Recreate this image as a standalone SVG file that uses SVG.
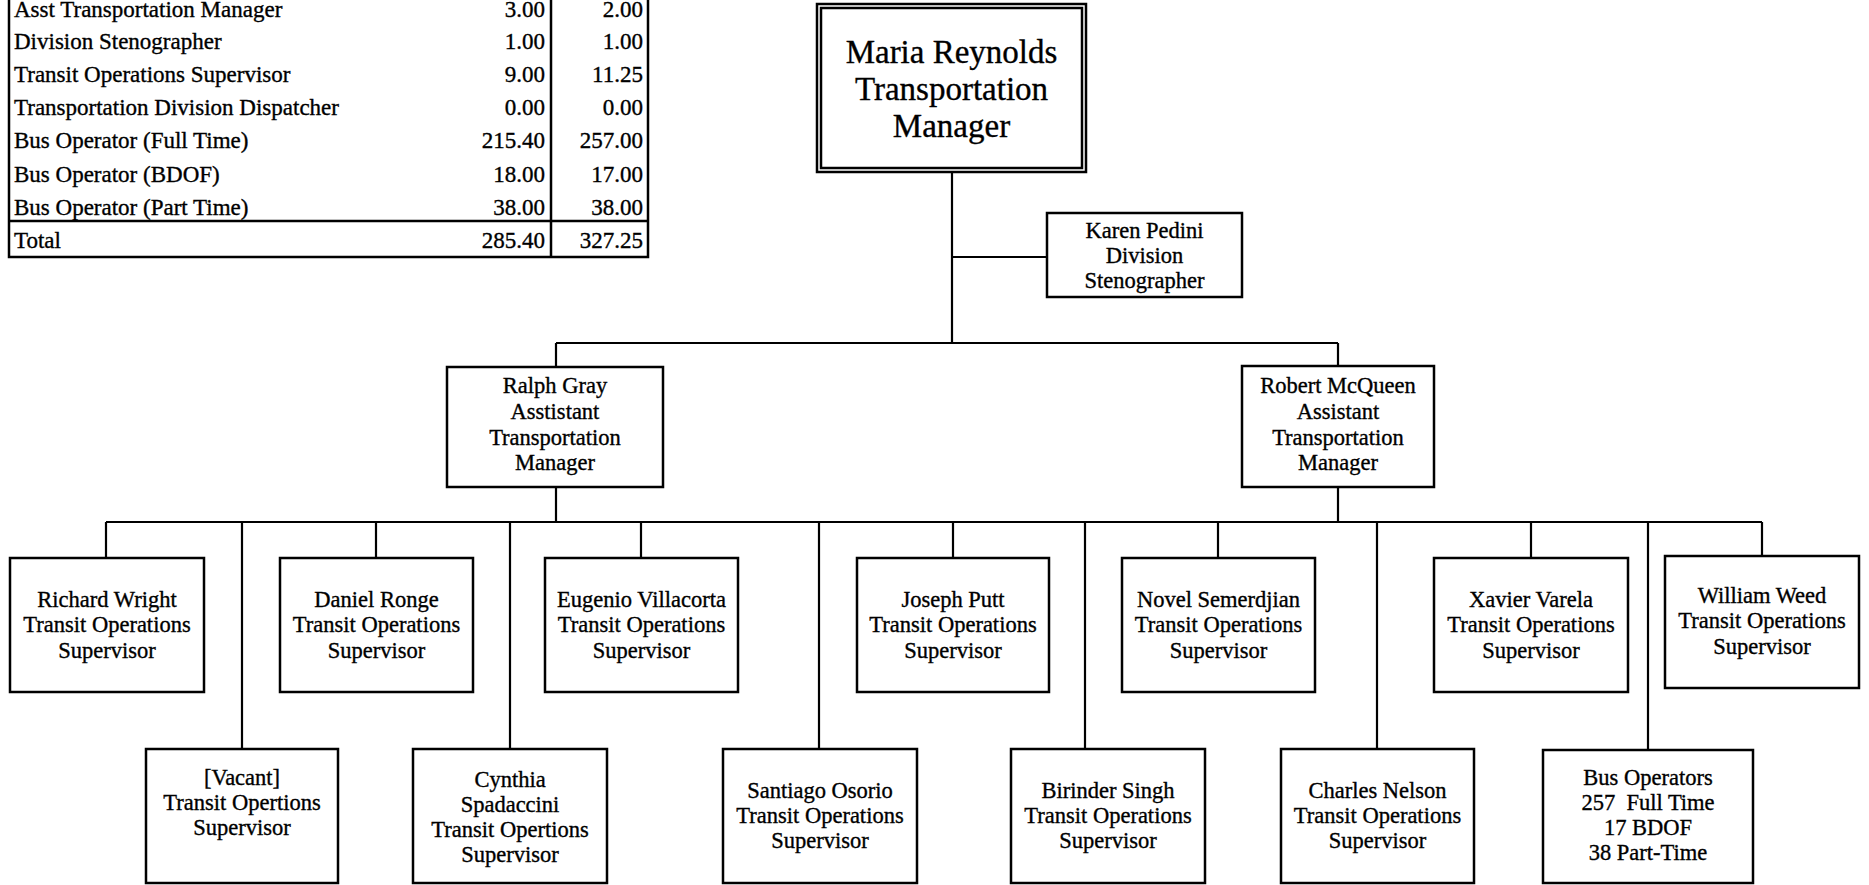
<svg xmlns="http://www.w3.org/2000/svg" width="1869" height="885" viewBox="0 0 1869 885">
<style>
text{font-family:"Liberation Serif","Times New Roman",serif;fill:#000;stroke:#000;stroke-width:0.35}
.t{font-size:23px}
.num{text-anchor:end}
.n{font-size:22.5px;text-anchor:middle}
.m{font-size:33px;text-anchor:middle}
.box{fill:#fff;stroke:#000;stroke-width:2.5}
.ln{stroke:#000;stroke-width:2.2;fill:none}
.tb{stroke:#000;stroke-width:2.5;fill:none}
</style>
<rect width="1869" height="885" fill="#fff"/>
<g id="table">
<path class="tb" d="M9,-2V257H648V-2M551,-2V257M9,221H648"/>
<text class="t" x="14" y="17">Asst Transportation Manager</text>
<text class="t" x="14" y="49">Division Stenographer</text>
<text class="t" x="14" y="82">Transit Operations Supervisor</text>
<text class="t" x="14" y="115">Transportation Division Dispatcher</text>
<text class="t" x="14" y="148">Bus Operator (Full Time)</text>
<text class="t" x="14" y="182">Bus Operator (BDOF)</text>
<text class="t" x="14" y="215">Bus Operator (Part Time)</text>
<text class="t" x="14" y="248">Total</text>
<g class="num">
<text class="t num" x="545" y="17">3.00</text>
<text class="t num" x="545" y="49">1.00</text>
<text class="t num" x="545" y="82">9.00</text>
<text class="t num" x="545" y="115">0.00</text>
<text class="t num" x="545" y="148">215.40</text>
<text class="t num" x="545" y="182">18.00</text>
<text class="t num" x="545" y="215">38.00</text>
<text class="t num" x="545" y="248">285.40</text>
<text class="t num" x="643" y="17">2.00</text>
<text class="t num" x="643" y="49">1.00</text>
<text class="t num" x="643" y="82">11.25</text>
<text class="t num" x="643" y="115">0.00</text>
<text class="t num" x="643" y="148">257.00</text>
<text class="t num" x="643" y="182">17.00</text>
<text class="t num" x="643" y="215">38.00</text>
<text class="t num" x="643" y="248">327.25</text>
</g>
</g>
<g id="connectors">
<path class="ln" d="M952,172V343M952,257H1047M556,343H1338M556,343V367M1338,343V366M556,487V522M1338,487V522M106,522H1762"/>
<path class="ln" d="M106,522V558M376,522V558M641,522V558M953,522V558M1218,522V558M1531,522V558M1762,522V556"/>
<path class="ln" d="M242,522V749M510,522V749M819,522V749M1085,522V749M1377,522V749M1648,522V750"/>
</g>
<g id="maria">
<rect class="box" x="817" y="4" width="269" height="168"/>
<rect class="box" x="821" y="8" width="261" height="160"/>
<text class="m" x="951.5" y="63">Maria Reynolds</text>
<text class="m" x="951.5" y="100">Transportation</text>
<text class="m" x="951.5" y="137">Manager</text>
</g>
<g id="karen">
<rect class="box" x="1047" y="213" width="195" height="84"/>
<text class="n" x="1144.5" y="238">Karen Pedini</text>
<text class="n" x="1144.5" y="263">Division</text>
<text class="n" x="1144.5" y="288">Stenographer</text>
</g>
<g id="ralph">
<rect class="box" x="447" y="367" width="216" height="120"/>
<text class="n" x="555" y="393">Ralph Gray</text>
<text class="n" x="555" y="419">Asstistant</text>
<text class="n" x="555" y="445">Transportation</text>
<text class="n" x="555" y="470">Manager</text>
</g>
<g id="robert">
<rect class="box" x="1242" y="366" width="192" height="121"/>
<text class="n" x="1338" y="393">Robert McQueen</text>
<text class="n" x="1338" y="419">Assistant</text>
<text class="n" x="1338" y="445">Transportation</text>
<text class="n" x="1338" y="470">Manager</text>
</g>
<g id="richard">
<rect class="box" x="10" y="558" width="194" height="134"/>
<text class="n" x="107" y="607">Richard Wright</text>
<text class="n" x="107" y="632">Transit Operations</text>
<text class="n" x="107" y="658">Supervisor</text>
</g>
<g id="daniel">
<rect class="box" x="280" y="558" width="193" height="134"/>
<text class="n" x="376.5" y="607">Daniel Ronge</text>
<text class="n" x="376.5" y="632">Transit Operations</text>
<text class="n" x="376.5" y="658">Supervisor</text>
</g>
<g id="eugenio">
<rect class="box" x="545" y="558" width="193" height="134"/>
<text class="n" x="641.5" y="607">Eugenio Villacorta</text>
<text class="n" x="641.5" y="632">Transit Operations</text>
<text class="n" x="641.5" y="658">Supervisor</text>
</g>
<g id="joseph">
<rect class="box" x="857" y="558" width="192" height="134"/>
<text class="n" x="953" y="607">Joseph Putt</text>
<text class="n" x="953" y="632">Transit Operations</text>
<text class="n" x="953" y="658">Supervisor</text>
</g>
<g id="novel">
<rect class="box" x="1122" y="558" width="193" height="134"/>
<text class="n" x="1218.5" y="607">Novel Semerdjian</text>
<text class="n" x="1218.5" y="632">Transit Operations</text>
<text class="n" x="1218.5" y="658">Supervisor</text>
</g>
<g id="xavier">
<rect class="box" x="1434" y="558" width="194" height="134"/>
<text class="n" x="1531" y="607">Xavier Varela</text>
<text class="n" x="1531" y="632">Transit Operations</text>
<text class="n" x="1531" y="658">Supervisor</text>
</g>
<g id="william">
<rect class="box" x="1665" y="556" width="194" height="132"/>
<text class="n" x="1762" y="603">William Weed</text>
<text class="n" x="1762" y="628">Transit Operations</text>
<text class="n" x="1762" y="654">Supervisor</text>
</g>
<g id="vacant">
<rect class="box" x="146" y="749" width="192" height="134"/>
<text class="n" x="242" y="785">[Vacant]</text>
<text class="n" x="242" y="810">Transit Opertions</text>
<text class="n" x="242" y="835">Supervisor</text>
</g>
<g id="cynthia">
<rect class="box" x="413" y="749" width="194" height="134"/>
<text class="n" x="510" y="787">Cynthia</text>
<text class="n" x="510" y="812">Spadaccini</text>
<text class="n" x="510" y="837">Transit Opertions</text>
<text class="n" x="510" y="862">Supervisor</text>
</g>
<g id="santiago">
<rect class="box" x="723" y="749" width="194" height="134"/>
<text class="n" x="820" y="798">Santiago Osorio</text>
<text class="n" x="820" y="823">Transit Operations</text>
<text class="n" x="820" y="848">Supervisor</text>
</g>
<g id="birinder">
<rect class="box" x="1011" y="749" width="194" height="134"/>
<text class="n" x="1108" y="798">Birinder Singh</text>
<text class="n" x="1108" y="823">Transit Operations</text>
<text class="n" x="1108" y="848">Supervisor</text>
</g>
<g id="charles">
<rect class="box" x="1281" y="749" width="193" height="134"/>
<text class="n" x="1377.5" y="798">Charles Nelson</text>
<text class="n" x="1377.5" y="823">Transit Operations</text>
<text class="n" x="1377.5" y="848">Supervisor</text>
</g>
<g id="busops">
<rect class="box" x="1543" y="750" width="210" height="133"/>
<text class="n" x="1648" y="785">Bus Operators</text>
<text class="n" x="1648" y="810" xml:space="preserve">257  Full Time</text>
<text class="n" x="1648" y="835">17 BDOF</text>
<text class="n" x="1648" y="860">38 Part-Time</text>
</g>
</svg>
